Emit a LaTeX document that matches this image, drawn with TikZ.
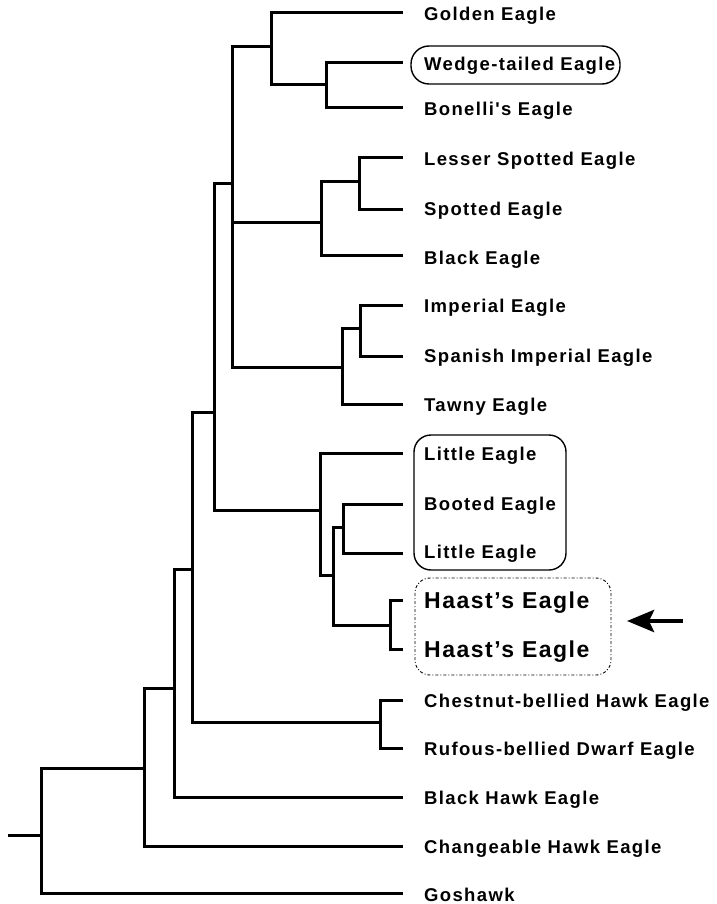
\documentclass[tikz,border=0pt]{standalone}
\usepackage{fontspec}
\setmainfont{Liberation Sans}
\newfontfamily\labfont[LetterSpace=7.3]{Liberation Sans Bold}
\newfontfamily\bigfont[LetterSpace=6.5]{Liberation Sans Bold}
\usetikzlibrary{arrows.meta}
\begin{document}
\begin{tikzpicture}[x=1pt,y=-1pt,
  branch/.style={line width=3pt, line join=miter},
  leaflab/.style={anchor=base west, inner sep=0pt, font=\labfont\fontsize{18.5}{22}\selectfont},
  biglab/.style={anchor=base west, inner sep=0pt, font=\bigfont\fontsize{23}{27}\selectfont},
  solidbox/.style={draw, line width=1.4pt},
  dashbox/.style={draw, line width=0.9pt, dash pattern=on 3pt off 2pt on 1pt off 2pt},
  pointer/.style={line width=4.5pt, -{Stealth[length=27pt,width=22pt,inset=5pt]}}]
\useasboundingbox (0,0) rectangle (716,904);
% leaf tips
\coordinate (t1) at (403,13);
\coordinate (t2) at (403,63);
\coordinate (t3) at (403,108);
\coordinate (t4) at (403,158);
\coordinate (t5) at (403,209);
\coordinate (t6) at (403,255);
\coordinate (t7) at (403,305);
\coordinate (t8) at (403,356);
\coordinate (t9) at (403,404);
\coordinate (t10) at (403,453);
\coordinate (t11) at (403,504);
\coordinate (t12) at (403,553);
\coordinate (t13) at (403,600);
\coordinate (t14) at (403,649);
\coordinate (t15) at (403,700);
\coordinate (t16) at (403,748);
\coordinate (t17) at (403,797);
\coordinate (t18) at (403,846);
\coordinate (t19) at (403,893);
% labels
\node[leaflab] (l1) at (424,20.5) {Golden Eagle};
\node[leaflab] (l2) at (424,70.5) {Wedge-tailed Eagle};
\node[leaflab] (l3) at (424,115.5) {Bonelli's Eagle};
\node[leaflab] (l4) at (424,165.5) {Lesser Spotted Eagle};
\node[leaflab] (l5) at (424,215.5) {Spotted Eagle};
\node[leaflab] (l6) at (424,264.5) {Black Eagle};
\node[leaflab] (l7) at (424,312) {Imperial Eagle};
\node[leaflab] (l8) at (424,362) {Spanish Imperial Eagle};
\node[leaflab] (l9) at (424,411.5) {Tawny Eagle};
\node[leaflab] (l10) at (424,460) {Little Eagle};
\node[leaflab] (l11) at (424,510.5) {Booted Eagle};
\node[leaflab] (l12) at (424,558.5) {Little Eagle};
\node[biglab] (l13) at (424,608) {Haast’s Eagle};
\node[biglab] (l14) at (424,657.5) {Haast’s Eagle};
\node[leaflab] (l15) at (424,707) {Chestnut-bellied Hawk Eagle};
\node[leaflab] (l16) at (424,755) {Rufous-bellied Dwarf Eagle};
\node[leaflab] (l17) at (424,804) {Black Hawk Eagle};
\node[leaflab] (l18) at (424,853) {Changeable Hawk Eagle};
\node[leaflab] (l19) at (424,901) {Goshawk};
% internal nodes
\coordinate (nWB) at (326,85);
\coordinate (nA) at (271,47);
\coordinate (nLS) at (359,182);
\coordinate (nB) at (321,222);
\coordinate (nIS) at (360,328);
\coordinate (nT) at (342,367);
\coordinate (nAq) at (232,184);
\coordinate (nBL) at (343,527);
\coordinate (nH) at (390,625);
\coordinate (nY) at (333,575);
\coordinate (nX) at (320,510);
\coordinate (nZ) at (214,412);
\coordinate (nCR) at (380,722);
\coordinate (nM) at (192,569);
\coordinate (nK) at (174,688);
\coordinate (nJ) at (144,768);
\coordinate (root) at (41,835);
\coordinate (stub) at (8,835);
% branches
\draw[branch] (nWB) |- (t2); \draw[branch] (nWB) |- (t3);
\draw[branch] (nA) |- (t1); \draw[branch] (nA) |- (nWB);
\draw[branch] (nLS) |- (t4); \draw[branch] (nLS) |- (t5);
\draw[branch] (nB) |- (nLS); \draw[branch] (nB) |- (t6);
\draw[branch] (nIS) |- (t7); \draw[branch] (nIS) |- (t8);
\draw[branch] (nT) |- (nIS); \draw[branch] (nT) |- (t9);
\draw[branch] (nAq) |- (nA); \draw[branch] (nAq) |- (nB); \draw[branch] (nAq) |- (nT);
\draw[branch] (nBL) |- (t11); \draw[branch] (nBL) |- (t12);
\draw[branch] (nH) |- (t13); \draw[branch] (nH) |- (t14);
\draw[branch] (nY) |- (nBL); \draw[branch] (nY) |- (nH);
\draw[branch] (nX) |- (t10); \draw[branch] (nX) |- (nY);
\draw[branch] (nZ) |- (nAq); \draw[branch] (nZ) |- (nX);
\draw[branch] (nCR) |- (t15); \draw[branch] (nCR) |- (t16);
\draw[branch] (nM) |- (nZ); \draw[branch] (nM) |- (nCR);
\draw[branch] (nK) |- (nM); \draw[branch] (nK) |- (t17);
\draw[branch] (nJ) |- (nK); \draw[branch] (nJ) |- (t18);
\draw[branch] (root) |- (nJ); \draw[branch] (root) |- (t19);
\draw[branch] (stub) -- (root);
% boxes
\draw[solidbox, rounded corners=18pt] (411,46) rectangle (620,84);
\draw[solidbox, rounded corners=17pt] (414,435) rectangle (566,570);
\draw[dashbox, rounded corners=15pt] (415,578) rectangle (611,675);
% arrow
\coordinate (arrtail) at (683,621);
\coordinate (arrtip) at (627,621);
\draw[pointer] (arrtail) -- (arrtip);
\end{tikzpicture}
\end{document}
